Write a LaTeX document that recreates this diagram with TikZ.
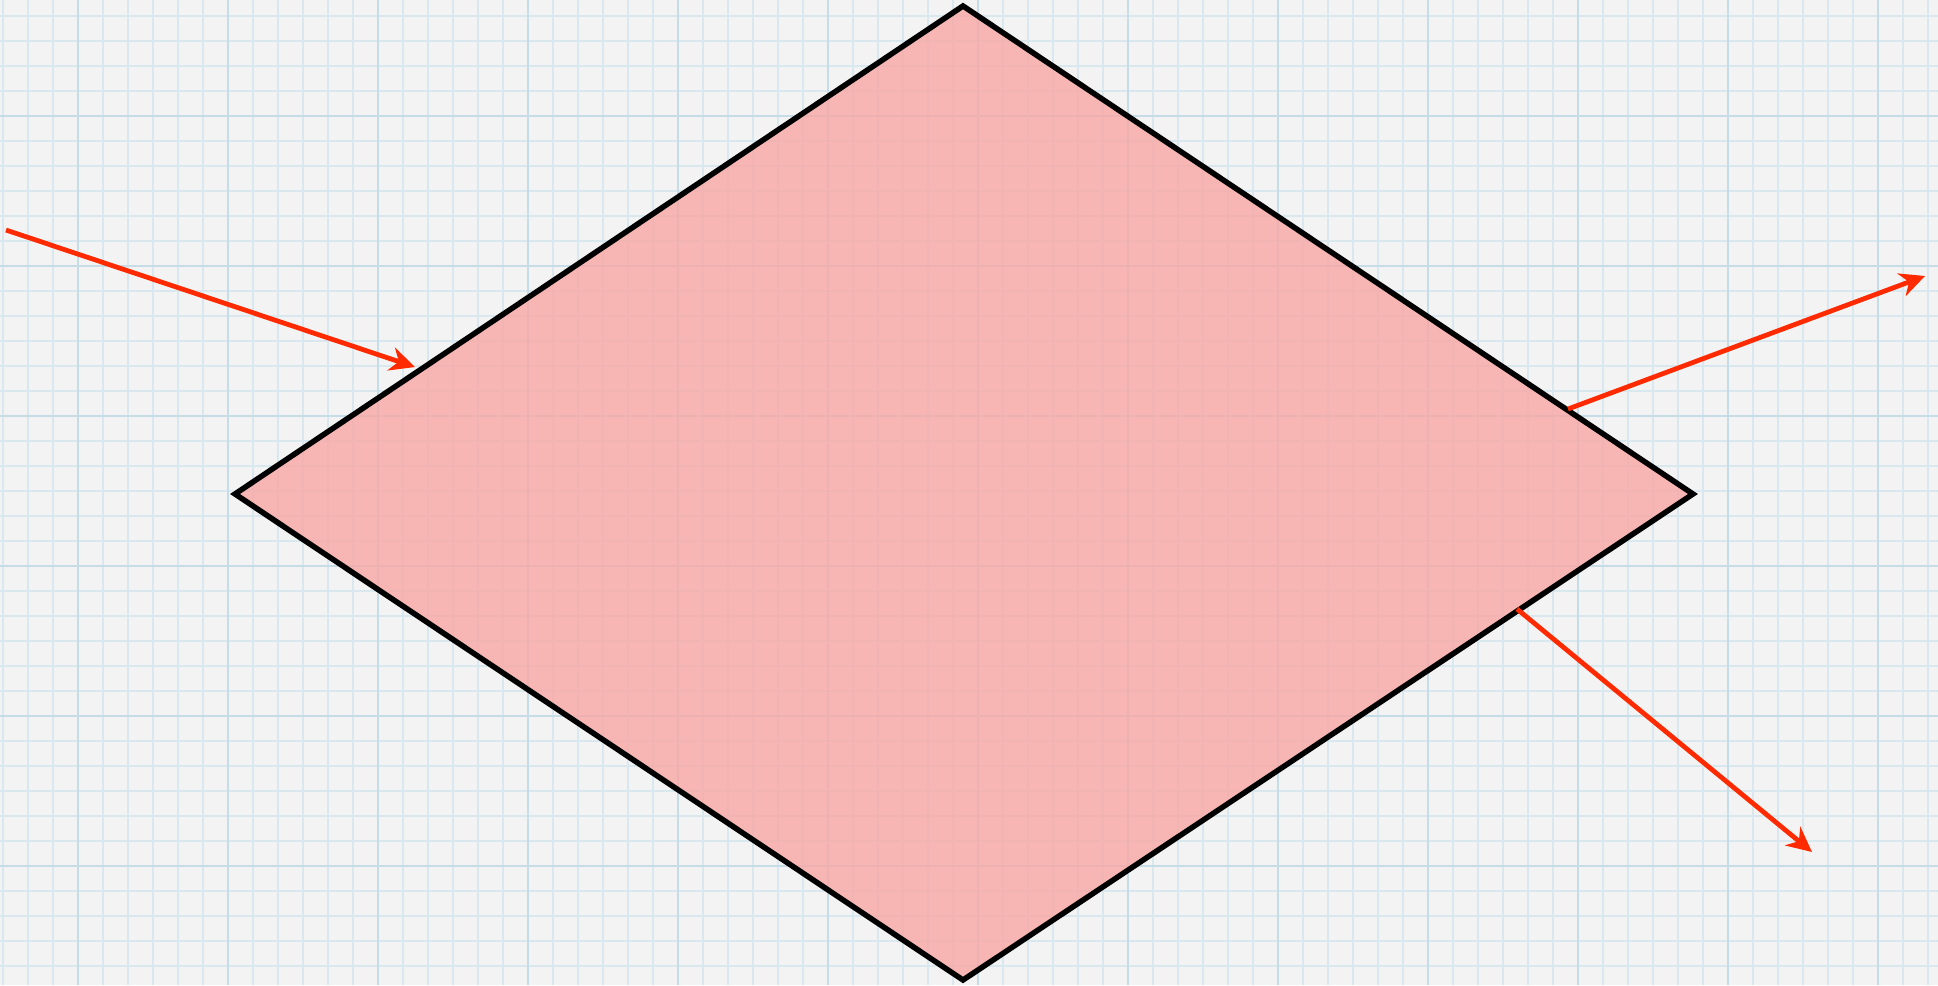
\documentclass[tikz,border=0pt]{standalone}
\usepackage{tikz}
\usetikzlibrary{arrows.meta, positioning}
\definecolor{paper}{RGB}{243,243,243}
\definecolor{gridminor}{RGB}{216,232,238}
\definecolor{gridmajor}{RGB}{198,220,230}
\definecolor{prismpink}{RGB}{249,166,163}
\definecolor{rayred}{RGB}{255,42,0}

\begin{document}
\begin{tikzpicture}[x=0.02cm, y=-0.02cm,
    minor/.style={gridminor, line width=0.025cm},
    major/.style={gridmajor, line width=0.05cm},
    prism/.style={fill=prismpink, fill opacity=0.78, draw=black, line width=0.11cm, line join=miter},
    ray/.style={-{Stealth[length=0.5cm, width=0.48cm, inset=0.16cm]}, rayred, line width=0.095cm}
]
    % Paper
    \fill[paper] (0,0) rectangle (1938,985);
    \useasboundingbox (0,0) rectangle (1938,985);

    % Grid
    \foreach \gx in {3,28,...,1928} \draw[minor] (\gx,0) -- (\gx,985);
    \foreach \gy in {16,41,...,985} \draw[minor] (0,\gy) -- (1938,\gy);
    \foreach \gx in {78,228,...,1900} \draw[major] (\gx,0) -- (\gx,985);
    \foreach \gy in {116,266,...,985} \draw[major] (0,\gy) -- (1938,\gy);

    % Diamond
    \coordinate (top) at (963,6);
    \coordinate (right) at (1693,494);
    \coordinate (bottom) at (963,980);
    \coordinate (left) at (235,494);
    \filldraw[prism] (top) -- (right) -- (bottom) -- (left) -- cycle;

    % Rays
    \coordinate (inStart) at (6,230);
    \coordinate (inHit) at (415,367);
    \coordinate (upOut) at (1568,409);
    \coordinate (upEnd) at (1925,276);
    \coordinate (lowOut) at (1517,609);
    \coordinate (lowEnd) at (1812,852);
    \draw[ray] (inStart) -- (inHit);
    \draw[ray] (upOut) -- (upEnd);
    \draw[ray] (lowOut) -- (lowEnd);
\end{tikzpicture}
\end{document}
